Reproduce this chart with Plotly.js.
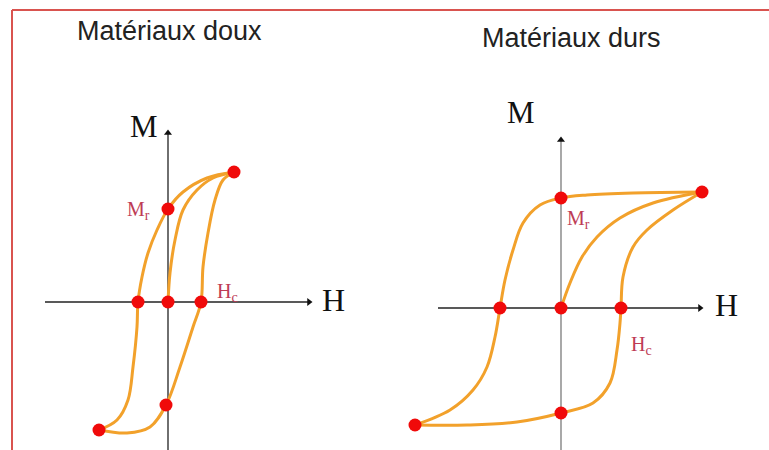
<!DOCTYPE html>
<html>
<head>
<meta charset="utf-8">
<script src="https://cdn.plot.ly/plotly-3.0.1.min.js"></script>
<style>
  html, body { margin: 0; padding: 0; background: #ffffff; }
  #chart { width: 769px; height: 450px; }
</style>
</head>
<body>
<div id="chart"></div>
<script>
// ---------- DATA (H, M in arbitrary units) ----------
const titles = ["Matériaux doux", "Matériaux durs"];

// Soft material (Matériaux doux)
const softUpperH = [6.6, 3.9, 1.5, 0, -1.1, -2.0, -2.6, -3.0, -3.1, -3.5, -4.0, -5.1, -6.9];
const softUpperM = [13.0, 12.4, 11.0, 9.3, 7.2, 4.9, 2.5, 0, -2.5, -6.5, -9.8, -11.8, -12.8];
const softLowerH = [-6.9, -4.1, -1.8, -0.2, 1.2, 2.5, 3.3, 3.5, 4.0, 4.7, 5.5, 6.6];
const softLowerM = [-12.8, -13.1, -12.5, -10.3, -6.5, -2.5, 0, 3.5, 6.9, 10.2, 12.2, 13.0];
const softInitH = [0, 0.2, 0.7, 1.5, 2.9, 4.5, 6.6];
const softInitM = [0, 2.9, 6.2, 9.2, 11.2, 12.4, 13.0];
const softPointsH = [6.6, 0, -3.0, 0, 3.3, -0.2, -6.9];
const softPointsM = [13.0, 9.3, 0, 0, 0, -10.3, -12.8];

// Hard material (Matériaux durs)
const hardUpperH = [14.1, 7.2, 2.6, 0, -2.1, -3.8, -4.8, -5.6, -6.1, -6.6, -7.4, -8.8, -11.1, -14.6];
const hardUpperM = [11.6, 11.5, 11.3, 11.0, 10.3, 8.5, 5.8, 2.8, 0, -2.9, -5.9, -8.2, -10.2, -11.7];
const hardLowerH = [-14.6, -9.4, -4.4, 0, 3.2, 4.9, 5.6, 5.9, 6.0, 6.2, 7.2, 8.6, 11.2, 14.1];
const hardLowerM = [-11.7, -11.7, -11.4, -10.5, -9.5, -7.5, -4.2, -1.5, 0, 3.1, 6.1, 7.8, 9.8, 11.6];
const hardInitH = [0, 0.9, 2.1, 3.6, 5.9, 9.2, 14.1];
const hardInitM = [0, 2.5, 5.1, 7.1, 9.0, 10.5, 11.6];
const hardPointsH = [14.1, 0, -6.1, 0, 6.0, 0, -14.6];
const hardPointsM = [11.6, 11.0, 0, 0, 0, -10.5, -11.7];

const axisLabels = ["M", "H"];
const markLabels = ["M<sub>r</sub>", "H<sub>c</sub>"];

// ---------- STYLE / GEOMETRY ----------
const ORANGE = "#F2A12B";
const RED = "#F00A0A";
const LABEL_RED = "#BE3C55";
const SERIF = "Liberation Serif, Times New Roman, serif";
const SANS = "Liberation Sans, Arial, sans-serif";

const panels = [
  { xa: "x", ya: "y", up: [softUpperH, softUpperM], lo: [softLowerH, softLowerM], ini: [softInitH, softInitM],
    pts: [softPointsH, softPointsM],
    hAxis: [-12.3, 14.1], hTip: 14.1, mAxis: [-16, 16.9], mTip: 16.9, vColor: "#222",
    mLab: [-2.4, 17.6], hLab: [16.5, 0.2], mrLab: [-3.0, 9.2], hcLab: [5.9, 1.0] },
  { xa: "x2", ya: "y2", up: [hardUpperH, hardUpperM], lo: [hardLowerH, hardLowerM], ini: [hardInitH, hardInitM],
    pts: [hardPointsH, hardPointsM],
    hAxis: [-12.3, 13.9], hTip: 13.9, mAxis: [-16, 16.8], mTip: 16.8, vColor: "#7a7a7a",
    mLab: [-4.0, 19.6], hLab: [16.5, 0.3], mrLab: [1.7, 8.9], hcLab: [8.0, -3.7] }
];

const traces = [];
const annotations = [];

panels.forEach(p => {
  const base = { xaxis: p.xa, yaxis: p.ya, hoverinfo: "skip", showlegend: false, cliponaxis: false };
  // axis lines
  traces.push(Object.assign({}, base, { x: p.hAxis, y: [0, 0], mode: "lines", line: { color: "#222", width: 1.3 } }));
  traces.push(Object.assign({}, base, { x: [0, 0], y: p.mAxis, mode: "lines", line: { color: p.vColor, width: 1.3 } }));
  // arrow heads
  traces.push(Object.assign({}, base, { x: [p.hTip], y: [0], mode: "markers",
    marker: { symbol: "triangle-right", size: 7, color: "#111" } }));
  traces.push(Object.assign({}, base, { x: [0], y: [p.mTip], mode: "markers",
    marker: { symbol: "triangle-up", size: 7, color: "#111" } }));
  // hysteresis branches
  [p.up, p.lo, p.ini].forEach(br => {
    traces.push(Object.assign({}, base, { x: br[0], y: br[1], mode: "lines",
      line: { color: ORANGE, width: 3, shape: "spline", smoothing: 1 } }));
  });
  // red points
  traces.push(Object.assign({}, base, { x: p.pts[0], y: p.pts[1], mode: "markers",
    marker: { color: RED, size: 13, line: { width: 0 } } }));

  const lab = (pos, text, size, color) => ({ xref: p.xa, yref: p.ya, x: pos[0], y: pos[1], text: text,
    showarrow: false, xanchor: "center", yanchor: "middle", font: { family: SERIF, size: size, color: color } });
  annotations.push(lab(p.mLab, axisLabels[0], 31, "#111"));
  annotations.push(lab(p.hLab, axisLabels[1], 32, "#111"));
  annotations.push(lab(p.mrLab, markLabels[0], 20, LABEL_RED));
  annotations.push(lab(p.hcLab, markLabels[1], 20, LABEL_RED));
});

annotations.push({ xref: "paper", yref: "paper", x: 169 / 769, y: 1 - 31 / 450, text: titles[0], showarrow: false,
  xanchor: "center", yanchor: "middle", font: { family: SANS, size: 27, color: "#222" } });
annotations.push({ xref: "paper", yref: "paper", x: 571 / 769, y: 1 - 38 / 450, text: titles[1], showarrow: false,
  xanchor: "center", yanchor: "middle", font: { family: SANS, size: 27, color: "#222" } });

const hidden = { visible: false, fixedrange: true, domain: [0, 1] };

const layout = {
  width: 769, height: 450,
  margin: { l: 0, r: 0, t: 0, b: 0, pad: 0 },
  paper_bgcolor: "#ffffff", plot_bgcolor: "#ffffff",
  showlegend: false, hovermode: false,
  xaxis: Object.assign({}, hidden, { range: [-16.8, 60.1] }),
  yaxis: Object.assign({}, hidden, { range: [-14.8, 30.2] }),
  xaxis2: Object.assign({}, hidden, { range: [-56.1, 20.8], overlaying: "x" }),
  yaxis2: Object.assign({}, hidden, { range: [-14.2, 30.8], overlaying: "y" }),
  annotations: annotations,
  shapes: [
    { type: "line", xref: "paper", yref: "paper", x0: 12 / 769, x1: 1, y0: 1 - 10 / 450, y1: 1 - 10 / 450,
      line: { color: "#D9534F", width: 2 } },
    { type: "line", xref: "paper", yref: "paper", x0: 12 / 769, x1: 12 / 769, y0: 0, y1: 1 - 10 / 450,
      line: { color: "#D9534F", width: 2 } }
  ]
};

Plotly.newPlot("chart", traces, layout, { staticPlot: true, displayModeBar: false });
</script>
</body>
</html>
